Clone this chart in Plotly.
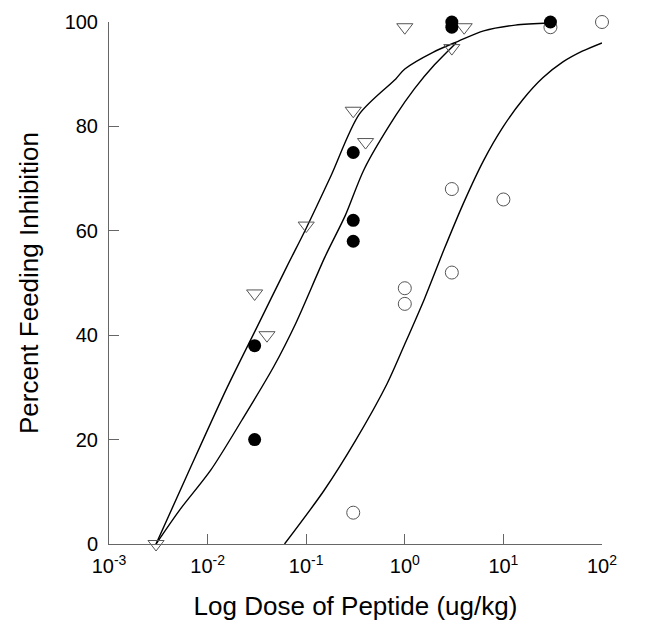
import plotly.graph_objects as go

# Data
filled_x = [0.03, 0.03, 0.3, 0.3, 0.3, 3, 3, 30]
filled_y = [38, 20, 75, 62, 58, 100, 99, 100]

open_x = [0.3, 1, 1, 3, 3, 10, 30, 100]
open_y = [6, 49, 46, 68, 52, 66, 99, 100]

tri_x = [0.003, 0.03, 0.04, 0.1, 0.3, 0.4, 1, 3, 4]
tri_y = [0, 48, 40, 61, 83, 77, 99, 95, 99]

# Fitted curves
curveA_x = [0.0030, 0.0063, 0.0158, 0.0316, 0.0631, 0.1, 0.178, 0.347,
            0.81, 1.0, 1.93, 3.47, 6.31, 13.2, 30.0]
curveA_y = [0, 13.5, 30.0, 41.5, 53.0, 60.5, 70.5, 82.4,
            89.1, 91.0, 94.2, 96.3, 98.3, 99.4, 99.8]

curveB_x = [0.0030, 0.0052, 0.0108, 0.0224, 0.0469, 0.0785, 0.155, 0.25, 0.387,
            0.81, 1.25, 2.0, 3.31]
curveB_y = [0, 6.5, 14.2, 23.8, 34.0, 42.3, 55.0, 63.0, 71.8,
            82.1, 87.2, 91.8, 96.0]

curveC_x = [0.0603, 0.151, 0.316, 0.661, 1.0, 1.585, 2.51, 3.98, 6.31,
            10.0, 15.85, 25.1, 39.8, 63.1, 100]
curveC_y = [0, 10.2, 19.8, 30.7, 38.3, 47.0, 56.5, 65.5, 73.5,
            80.0, 85.2, 89.3, 92.3, 94.4, 96.0]

tick_vals = [0.001, 0.01, 0.1, 1, 10, 100]
tick_text = ["10<sup>-3</sup>", "10<sup>-2</sup>", "10<sup>-1</sup>",
             "10<sup>0</sup>", "10<sup>1</sup>", "10<sup>2</sup>"]
y_ticks = [0, 20, 40, 60, 80, 100]

fig = go.Figure()
for cx, cy in [(curveA_x, curveA_y), (curveB_x, curveB_y), (curveC_x, curveC_y)]:
    fig.add_trace(go.Scatter(x=cx, y=cy, mode="lines",
                             line=dict(color="black", width=1.4, shape="spline", smoothing=0.8),
                             showlegend=False, cliponaxis=False, hoverinfo="skip"))

fig.add_trace(go.Scatter(x=tri_x, y=tri_y, mode="markers",
                         marker=dict(symbol="triangle-down-open", size=14, color="#555555", line=dict(width=1)),
                         showlegend=False, cliponaxis=False))
fig.add_trace(go.Scatter(x=open_x, y=open_y, mode="markers",
                         marker=dict(symbol="circle-open", size=13, color="#555555", line=dict(width=1)),
                         showlegend=False, cliponaxis=False))
fig.add_trace(go.Scatter(x=filled_x, y=filled_y, mode="markers",
                         marker=dict(symbol="circle", size=13, color="black"),
                         showlegend=False, cliponaxis=False))

fig.update_layout(
    width=652, height=628,
    margin=dict(l=101, r=58, t=14, b=92),
    plot_bgcolor="white", paper_bgcolor="white",
    font=dict(family="Liberation Sans, Arial, sans-serif", color="black", size=19),
)
fig.update_xaxes(type="log", range=[-3, 2], tickvals=tick_vals, ticktext=tick_text,
                 ticks="inside", ticklen=10, tickcolor="#666666", showline=True, linecolor="#666666", linewidth=1,
                 showgrid=False, zeroline=False, tickfont=dict(size=20), ticklabelstandoff=4, automargin=False,
                 title=dict(text="Log Dose of Peptide (ug/kg)", font=dict(size=26), standoff=20))
fig.update_yaxes(range=[0, 100], tickvals=y_ticks,
                 ticks="inside", ticklen=10, tickcolor="#666666", showline=True, linecolor="#666666", linewidth=1,
                 showgrid=False, zeroline=False, tickfont=dict(size=20), ticklabelstandoff=6, automargin=False,
                 title=dict(text="Percent Feeding Inhibition", font=dict(size=26), standoff=18))

fig.write_html("out.html")
